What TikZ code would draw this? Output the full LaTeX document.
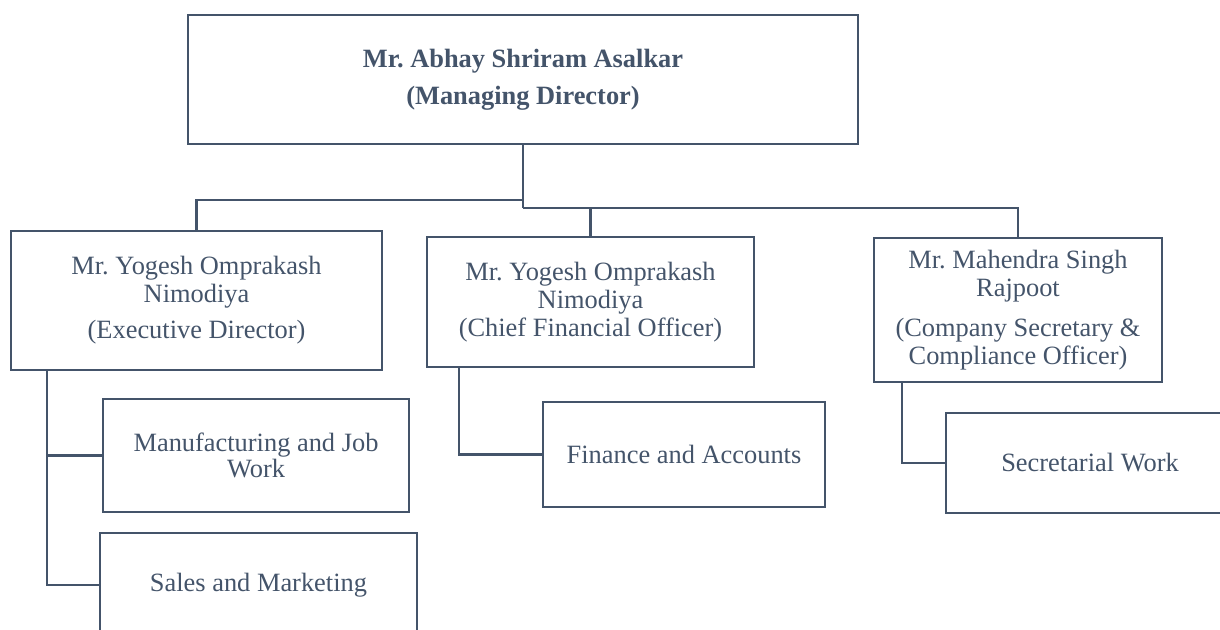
\documentclass[tikz,border=0pt]{standalone}
\usepackage{fontspec}
\setmainfont{Liberation Serif}
\usepackage{tikz}
\frenchspacing
\definecolor{slate}{HTML}{44546A}
\tikzset{box/.style={draw=slate, line width=1.2pt, text=slate, inner sep=0pt, align=center,
    font=\fontsize{13.2}{14}\selectfont},
  link/.style={draw=slate, line width=1.3pt}}

\begin{document}
\begin{tikzpicture} [x=0.5pt, y=-0.5pt]
\useasboundingbox (0,0) rectangle (1220,630);
\clip (0,0) rectangle (1220,630);
\node (md) [box, minimum width=335pt, minimum height=64.5pt] at (523,79.5)
    {\bfseries Mr. Abhay Shriram Asalkar\\[4.5pt] \bfseries (Managing Director)};
\node (ed) [box, minimum width=185.5pt, minimum height=69.5pt] at (196.5,300.5)
    {Mr. Yogesh Omprakash\\ Nimodiya\\[4pt] (Executive Director)};
\node (cfo) [box, minimum width=163.5pt, minimum height=65pt] at (590.5,302)
    {Mr. Yogesh Omprakash\\ Nimodiya\\ (Chief Financial Officer)};
\node (cs) [box, minimum width=144pt, minimum height=72pt] at (1018,310)
    {Mr. Mahendra Singh\\ Rajpoot\\[6pt] (Company Secretary \&\\ Compliance Officer)};
\node (mfg) [box, minimum width=153pt, minimum height=56.5pt] at (256,455.5)
    {Manufacturing and Job\\[-1pt] Work};
\node (sales) [box, minimum width=158.5pt, minimum height=52pt] at (258.5,585)
    {Sales and Marketing};
\node (fin) [box, minimum width=141pt, minimum height=52.5pt] at (684,454.5)
    {Finance and Accounts};
\node (sec) [box, minimum width=144pt, minimum height=50pt] at (1090,463)
    {Secretarial Work};
% top level
\coordinate (split1) at (523,200);
\coordinate (split2) at (523,208);
\path [link]
    (md.south) -- (split2)
    (split1) -| (ed.north)
    (split2) -| (cfo.north)
    (split2) -| (cs.north);
% second level
\path [link]
    ([xshift=18.5pt]ed.south west) |- (mfg.west)
    ([xshift=18.5pt]ed.south west) |- (sales.west)
    ([xshift=16.5pt]cfo.south west) |- (fin.west)
    ([xshift=14.5pt]cs.south west) |- (sec.west);
\end{tikzpicture}
\end{document}
